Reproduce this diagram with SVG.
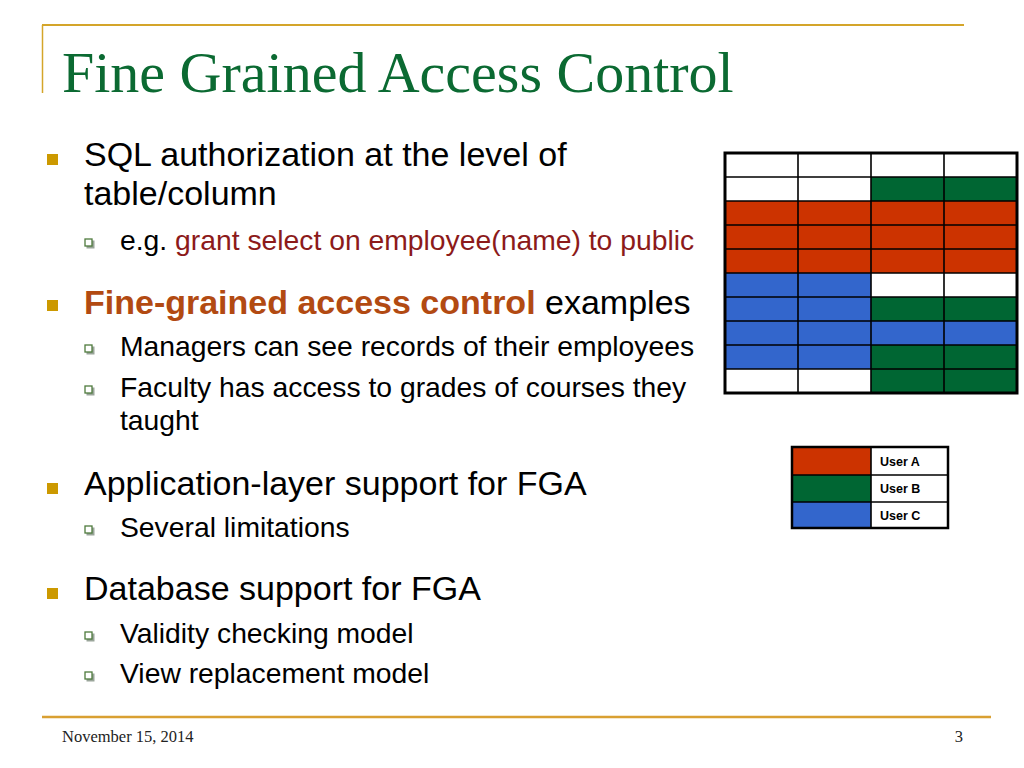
<svg xmlns="http://www.w3.org/2000/svg" width="1024" height="768" viewBox="0 0 1024 768">
<style>
.t1{font-family:"Liberation Sans",Arial,sans-serif;font-size:34px;fill:#000}
.t2{font-family:"Liberation Sans",Arial,sans-serif;font-size:28.3px;fill:#000}
.ttl{font-family:"Liberation Serif","Times New Roman",serif;font-size:58px;fill:#0B6A32}
.ft{font-family:"Liberation Serif","Times New Roman",serif;font-size:16.5px;fill:#222}
.lg{font-family:"Liberation Sans",Arial,sans-serif;font-size:12.5px;font-weight:bold;fill:#000}
.gold{fill:#CC9900}
.sb{fill:#fff;stroke:#4E7A3C;stroke-width:1.3}
.sbs{fill:#9aa59a}
.R{fill:#CC3300}.G{fill:#006633}.B{fill:#3366CC}.W{fill:#fff}
.gl{stroke:#000;stroke-width:1.6;fill:none}
.gb{stroke:#000;stroke-width:3;fill:none}
</style>
<rect width="1024" height="768" fill="#fff"/>
<g id="frame">
<line x1="42" y1="25" x2="964" y2="25" stroke="#D4A52A" stroke-width="2"/>
<line x1="42.5" y1="25" x2="42.5" y2="93" stroke="#D4A52A" stroke-width="1.5"/>
<line x1="42" y1="717" x2="991" y2="717" stroke="#D9A032" stroke-width="2.5"/>
</g>
<text id="title" class="ttl" x="62" y="92">Fine Grained Access Control</text>

<g id="bullets">
<rect class="gold" x="47" y="154" width="11" height="11"/>
<text class="t1" x="84" y="166">SQL authorization at the level of</text>
<text class="t1" x="84" y="205">table/column</text>
<rect class="sbs" x="86.5" y="240.5" width="8" height="8"/><rect class="sb" x="85" y="239" width="7" height="7"/>
<text class="t2" x="120" y="250">e.g. <tspan fill="#8C1A1A">grant select on employee(name) to public</tspan></text>

<rect class="gold" x="47" y="300" width="11" height="11"/>
<text class="t1" x="84" y="314"><tspan font-weight="bold" fill="#B24A12">Fine-grained access control</tspan> examples</text>
<rect class="sbs" x="86.5" y="346.5" width="8" height="8"/><rect class="sb" x="85" y="345" width="7" height="7"/>
<text class="t2" x="120" y="356">Managers can see records of their employees</text>
<rect class="sbs" x="86.5" y="387.5" width="8" height="8"/><rect class="sb" x="85" y="386" width="7" height="7"/>
<text class="t2" x="120" y="397">Faculty has access to grades of courses they</text>
<text class="t2" x="120" y="430">taught</text>

<rect class="gold" x="47" y="483" width="11" height="11"/>
<text class="t1" x="84" y="495">Application-layer support for FGA</text>
<rect class="sbs" x="86.5" y="527.5" width="8" height="8"/><rect class="sb" x="85" y="526" width="7" height="7"/>
<text class="t2" x="120" y="537">Several limitations</text>

<rect class="gold" x="47" y="588" width="11" height="11"/>
<text class="t1" x="84" y="600">Database support for FGA</text>
<rect class="sbs" x="86.5" y="633.5" width="8" height="8"/><rect class="sb" x="85" y="632" width="7" height="7"/>
<text class="t2" x="120" y="643">Validity checking model</text>
<rect class="sbs" x="86.5" y="673.5" width="8" height="8"/><rect class="sb" x="85" y="672" width="7" height="7"/>
<text class="t2" x="120" y="683">View replacement model</text>
</g>

<g id="grid">
<rect class="W" x="725" y="153" width="292" height="24"/>
<rect class="W" x="725" y="177" width="146" height="24"/><rect class="G" x="871" y="177" width="146" height="24"/>
<rect class="R" x="725" y="201" width="292" height="72"/>
<rect class="B" x="725" y="273" width="146" height="24"/><rect class="W" x="871" y="273" width="146" height="24"/>
<rect class="B" x="725" y="297" width="146" height="24"/><rect class="G" x="871" y="297" width="146" height="24"/>
<rect class="B" x="725" y="321" width="292" height="24"/>
<rect class="B" x="725" y="345" width="146" height="24"/><rect class="G" x="871" y="345" width="146" height="24"/>
<rect class="W" x="725" y="369" width="146" height="24"/><rect class="G" x="871" y="369" width="146" height="24"/>
<path class="gl" d="M725 177H1017M725 201H1017M725 225H1017M725 249H1017M725 273H1017M725 297H1017M725 321H1017M725 345H1017M725 369H1017M798 153V393M871 153V393M944 153V393"/>
<rect class="gb" x="725" y="153" width="292" height="240"/>
</g>

<g id="legend">
<rect class="R" x="792" y="447" width="79" height="28"/>
<rect class="G" x="792" y="475" width="79" height="27"/>
<rect class="B" x="792" y="502" width="79" height="26"/>
<path class="gl" d="M792 475H948M792 502H948M871 447V528"/>
<rect x="792" y="447" width="156" height="81" fill="none" stroke="#000" stroke-width="2.5"/>
<text class="lg" x="880" y="466">User A</text>
<text class="lg" x="880" y="493">User B</text>
<text class="lg" x="880" y="520">User C</text>
</g>

<g id="footer">
<text class="ft" x="62" y="742">November 15, 2014</text>
<text class="ft" x="963" y="742" text-anchor="end">3</text>
</g>
</svg>
